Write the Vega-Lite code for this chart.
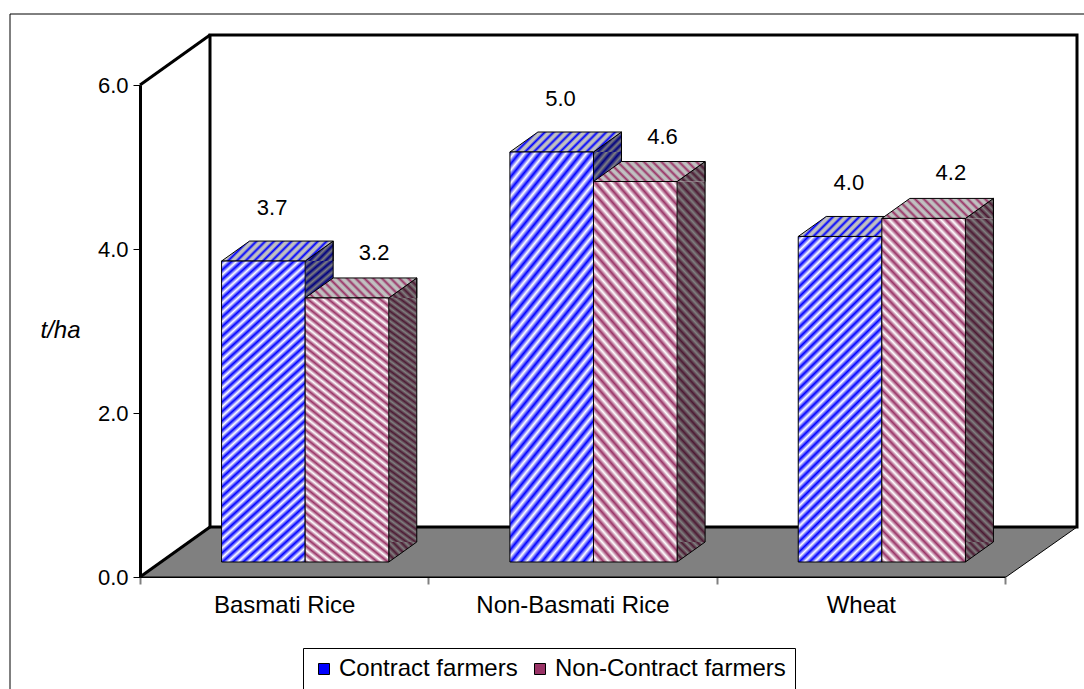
{
  "$schema": "https://vega.github.io/schema/vega-lite/v6.json",
  "width": 865,
  "height": 492,
  "autosize": "none",
  "padding": {"left": 140, "top": 85, "right": 79, "bottom": 112},
  "background": "#ffffff",
  "config": {"font": "Liberation Sans", "view": {"stroke": null}},
  "data": {
    "values": [
      {"crop": "Basmati Rice", "group": "Contract farmers", "value": 3.67},
      {"crop": "Basmati Rice", "group": "Non-Contract farmers", "value": 3.22},
      {"crop": "Non-Basmati Rice", "group": "Contract farmers", "value": 5.0},
      {"crop": "Non-Basmati Rice", "group": "Non-Contract farmers", "value": 4.64},
      {"crop": "Wheat", "group": "Contract farmers", "value": 3.97},
      {"crop": "Wheat", "group": "Non-Contract farmers", "value": 4.19}
    ]
  },
  "encoding": {
    "x": {
      "field": "crop",
      "type": "nominal",
      "sort": null,
      "scale": {"paddingInner": 0, "paddingOuter": 0},
      "axis": {
        "title": null,
        "labelAngle": 0,
        "labelFontSize": 24,
        "labelColor": "#000000",
        "labelPadding": 9,
        "labelLimit": 400,
        "tickBand": "extent",
        "tickSize": 7,
        "tickColor": "#808080",
        "tickWidth": 2,
        "domainColor": "#000000",
        "domainWidth": 1,
        "grid": false,
        "zindex": 1
      }
    },
    "y": {
      "field": "value",
      "type": "quantitative",
      "scale": {"domain": [0, 6], "nice": false},
      "axis": {
        "title": "t/ha",
        "titleAngle": 0,
        "titleFontStyle": "italic",
        "titleFontWeight": "normal",
        "titleFontSize": 24,
        "titleColor": "#000000",
        "titleX": -80,
        "titleY": 245,
        "titleAlign": "center",
        "titleBaseline": "middle",
        "values": [0, 2, 4, 6],
        "format": ".1f",
        "labelFontSize": 22,
        "labelColor": "#000000",
        "labelPadding": 5,
        "tickSize": 7,
        "tickColor": "#000000",
        "domainColor": "#000000",
        "domainWidth": 3,
        "grid": false,
        "zindex": 1
      }
    }
  },
  "layer": [
    {
      "transform": [{"filter": "datum.crop === 'Basmati Rice' && datum.group === 'Contract farmers'"}],
      "mark": {"type": "rect", "fill": "transparent", "stroke": "#000000", "strokeWidth": 1, "xOffset": -130, "x2Offset": 100, "yOffset": -71, "y2Offset": 150},
      "encoding": {"x": {"value": 0}, "x2": {"value": "width"}, "y": {"value": 0}, "y2": {"value": "height"}}
    },
    {
      "transform": [{"filter": "datum.crop === 'Basmati Rice' && datum.group === 'Contract farmers'"}],
      "mark": {"type": "point", "shape": "M0,0L70,-50L937,-50L866,0Z", "size": 4, "filled": true, "opacity": 1, "fill": "#808080", "stroke": "#000000", "strokeWidth": 1},
      "encoding": {"x": {"value": 0}, "y": {"datum": 0, "type": "quantitative"}}
    },
    {
      "transform": [{"filter": "datum.crop === 'Basmati Rice' && datum.group === 'Contract farmers'"}],
      "mark": {"type": "rect", "fill": "#ffffff", "stroke": "#000000", "strokeWidth": 3, "xOffset": 70, "x2Offset": 72, "yOffset": -50, "y2Offset": -50},
      "encoding": {"x": {"value": 0}, "x2": {"value": "width"}, "y": {"datum": 6, "type": "quantitative"}, "y2": {"datum": 0}}
    },
    {
      "transform": [{"filter": "datum.crop === 'Basmati Rice' && datum.group === 'Contract farmers'"}],
      "mark": {"type": "rule", "color": "#000000", "strokeWidth": 3, "x2Offset": 70, "y2Offset": -50},
      "encoding": {"x": {"value": 0}, "x2": {"value": 0}, "y": {"datum": 6, "type": "quantitative"}, "y2": {"datum": 6}}
    },
    {
      "transform": [{"filter": "datum.crop === 'Basmati Rice' && datum.group === 'Contract farmers'"}],
      "mark": {"type": "rule", "color": "#000000", "strokeWidth": 3, "x2Offset": 70, "y2Offset": -50},
      "encoding": {"x": {"value": 0}, "x2": {"value": 0}, "y": {"datum": 0, "type": "quantitative"}, "y2": {"datum": 0}}
    },
    {
      "transform": [{"filter": "datum.group === 'Contract farmers'"}],
      "mark": {"type": "bar", "width": 28, "xOffset": 35, "yOffset": -15, "y2Offset": -35, "strokeWidth": 0,
        "fill": {"gradient": "linear", "x1": 0, "y1": 0, "x2": 0.0915, "y2": 1.077, "stops": [{"offset":0,"color":"#000080"},{"offset":0.0125,"color":"#808080"},{"offset":0.025,"color":"#000080"},{"offset":0.0375,"color":"#808080"},{"offset":0.05,"color":"#000080"},{"offset":0.0625,"color":"#808080"},{"offset":0.075,"color":"#000080"},{"offset":0.0875,"color":"#808080"},{"offset":0.1,"color":"#000080"},{"offset":0.1125,"color":"#808080"},{"offset":0.125,"color":"#000080"},{"offset":0.1375,"color":"#808080"},{"offset":0.15,"color":"#000080"},{"offset":0.1625,"color":"#808080"},{"offset":0.175,"color":"#000080"},{"offset":0.1875,"color":"#808080"},{"offset":0.2,"color":"#000080"},{"offset":0.2125,"color":"#808080"},{"offset":0.225,"color":"#000080"},{"offset":0.2375,"color":"#808080"},{"offset":0.25,"color":"#000080"},{"offset":0.2625,"color":"#808080"},{"offset":0.275,"color":"#000080"},{"offset":0.2875,"color":"#808080"},{"offset":0.3,"color":"#000080"},{"offset":0.3125,"color":"#808080"},{"offset":0.325,"color":"#000080"},{"offset":0.3375,"color":"#808080"},{"offset":0.35,"color":"#000080"},{"offset":0.3625,"color":"#808080"},{"offset":0.375,"color":"#000080"},{"offset":0.3875,"color":"#808080"},{"offset":0.4,"color":"#000080"},{"offset":0.4125,"color":"#808080"},{"offset":0.425,"color":"#000080"},{"offset":0.4375,"color":"#808080"},{"offset":0.45,"color":"#000080"},{"offset":0.4625,"color":"#808080"},{"offset":0.475,"color":"#000080"},{"offset":0.4875,"color":"#808080"},{"offset":0.5,"color":"#000080"},{"offset":0.5125,"color":"#808080"},{"offset":0.525,"color":"#000080"},{"offset":0.5375,"color":"#808080"},{"offset":0.55,"color":"#000080"},{"offset":0.5625,"color":"#808080"},{"offset":0.575,"color":"#000080"},{"offset":0.5875,"color":"#808080"},{"offset":0.6,"color":"#000080"},{"offset":0.6125,"color":"#808080"},{"offset":0.625,"color":"#000080"},{"offset":0.6375,"color":"#808080"},{"offset":0.65,"color":"#000080"},{"offset":0.6625,"color":"#808080"},{"offset":0.675,"color":"#000080"},{"offset":0.6875,"color":"#808080"},{"offset":0.7,"color":"#000080"},{"offset":0.7125,"color":"#808080"},{"offset":0.725,"color":"#000080"},{"offset":0.7375,"color":"#808080"},{"offset":0.75,"color":"#000080"},{"offset":0.7625,"color":"#808080"},{"offset":0.775,"color":"#000080"},{"offset":0.7875,"color":"#808080"},{"offset":0.8,"color":"#000080"},{"offset":0.8125,"color":"#808080"},{"offset":0.825,"color":"#000080"},{"offset":0.8375,"color":"#808080"},{"offset":0.85,"color":"#000080"},{"offset":0.8625,"color":"#808080"},{"offset":0.875,"color":"#000080"},{"offset":0.8875,"color":"#808080"},{"offset":0.9,"color":"#000080"},{"offset":0.9125,"color":"#808080"},{"offset":0.925,"color":"#000080"},{"offset":0.9375,"color":"#808080"},{"offset":0.95,"color":"#000080"},{"offset":0.9625,"color":"#808080"},{"offset":0.975,"color":"#000080"},{"offset":0.9875,"color":"#808080"},{"offset":1,"color":"#000080"}]}},
      "encoding": {"y2": {"datum": 0}}
    },
    {
      "transform": [{"filter": "datum.group === 'Non-Contract farmers'"}],
      "mark": {"type": "bar", "width": 28, "xOffset": 118.6, "yOffset": -15, "y2Offset": -35, "strokeWidth": 0,
        "fill": {"gradient": "linear", "x1": 0, "y1": 1, "x2": 0.0915, "y2": -0.077, "stops": [{"offset":0,"color":"#4c1a33"},{"offset":0.0125,"color":"#808080"},{"offset":0.025,"color":"#4c1a33"},{"offset":0.0375,"color":"#808080"},{"offset":0.05,"color":"#4c1a33"},{"offset":0.0625,"color":"#808080"},{"offset":0.075,"color":"#4c1a33"},{"offset":0.0875,"color":"#808080"},{"offset":0.1,"color":"#4c1a33"},{"offset":0.1125,"color":"#808080"},{"offset":0.125,"color":"#4c1a33"},{"offset":0.1375,"color":"#808080"},{"offset":0.15,"color":"#4c1a33"},{"offset":0.1625,"color":"#808080"},{"offset":0.175,"color":"#4c1a33"},{"offset":0.1875,"color":"#808080"},{"offset":0.2,"color":"#4c1a33"},{"offset":0.2125,"color":"#808080"},{"offset":0.225,"color":"#4c1a33"},{"offset":0.2375,"color":"#808080"},{"offset":0.25,"color":"#4c1a33"},{"offset":0.2625,"color":"#808080"},{"offset":0.275,"color":"#4c1a33"},{"offset":0.2875,"color":"#808080"},{"offset":0.3,"color":"#4c1a33"},{"offset":0.3125,"color":"#808080"},{"offset":0.325,"color":"#4c1a33"},{"offset":0.3375,"color":"#808080"},{"offset":0.35,"color":"#4c1a33"},{"offset":0.3625,"color":"#808080"},{"offset":0.375,"color":"#4c1a33"},{"offset":0.3875,"color":"#808080"},{"offset":0.4,"color":"#4c1a33"},{"offset":0.4125,"color":"#808080"},{"offset":0.425,"color":"#4c1a33"},{"offset":0.4375,"color":"#808080"},{"offset":0.45,"color":"#4c1a33"},{"offset":0.4625,"color":"#808080"},{"offset":0.475,"color":"#4c1a33"},{"offset":0.4875,"color":"#808080"},{"offset":0.5,"color":"#4c1a33"},{"offset":0.5125,"color":"#808080"},{"offset":0.525,"color":"#4c1a33"},{"offset":0.5375,"color":"#808080"},{"offset":0.55,"color":"#4c1a33"},{"offset":0.5625,"color":"#808080"},{"offset":0.575,"color":"#4c1a33"},{"offset":0.5875,"color":"#808080"},{"offset":0.6,"color":"#4c1a33"},{"offset":0.6125,"color":"#808080"},{"offset":0.625,"color":"#4c1a33"},{"offset":0.6375,"color":"#808080"},{"offset":0.65,"color":"#4c1a33"},{"offset":0.6625,"color":"#808080"},{"offset":0.675,"color":"#4c1a33"},{"offset":0.6875,"color":"#808080"},{"offset":0.7,"color":"#4c1a33"},{"offset":0.7125,"color":"#808080"},{"offset":0.725,"color":"#4c1a33"},{"offset":0.7375,"color":"#808080"},{"offset":0.75,"color":"#4c1a33"},{"offset":0.7625,"color":"#808080"},{"offset":0.775,"color":"#4c1a33"},{"offset":0.7875,"color":"#808080"},{"offset":0.8,"color":"#4c1a33"},{"offset":0.8125,"color":"#808080"},{"offset":0.825,"color":"#4c1a33"},{"offset":0.8375,"color":"#808080"},{"offset":0.85,"color":"#4c1a33"},{"offset":0.8625,"color":"#808080"},{"offset":0.875,"color":"#4c1a33"},{"offset":0.8875,"color":"#808080"},{"offset":0.9,"color":"#4c1a33"},{"offset":0.9125,"color":"#808080"},{"offset":0.925,"color":"#4c1a33"},{"offset":0.9375,"color":"#808080"},{"offset":0.95,"color":"#4c1a33"},{"offset":0.9625,"color":"#808080"},{"offset":0.975,"color":"#4c1a33"},{"offset":0.9875,"color":"#808080"},{"offset":1,"color":"#4c1a33"}]}},
      "encoding": {"y2": {"datum": 0}}
    },
    {
      "transform": [{"filter": "datum.group === 'Contract farmers'"}],
      "mark": {"type": "point", "shape": "M0,0L28,-20L28,0", "size": 4, "filled": true, "opacity": 1, "xOffset": 21, "yOffset": -15, "stroke": "#000000", "strokeWidth": 1,
        "fill": {"gradient": "linear", "x1": 0, "y1": 0, "x2": 1.135, "y2": 0.81, "stops": [{"offset":0,"color":"#000080"},{"offset":0.0833,"color":"#808080"},{"offset":0.1667,"color":"#000080"},{"offset":0.25,"color":"#808080"},{"offset":0.3333,"color":"#000080"},{"offset":0.4167,"color":"#808080"},{"offset":0.5,"color":"#000080"},{"offset":0.5833,"color":"#808080"},{"offset":0.6667,"color":"#000080"},{"offset":0.75,"color":"#808080"},{"offset":0.8333,"color":"#000080"},{"offset":0.9167,"color":"#808080"},{"offset":1,"color":"#000080"}]}}
    },
    {
      "transform": [{"filter": "datum.group === 'Non-Contract farmers'"}],
      "mark": {"type": "point", "shape": "M0,0L28,-20L28,0", "size": 4, "filled": true, "opacity": 1, "xOffset": 104.6, "yOffset": -15, "stroke": "#000000", "strokeWidth": 1,
        "fill": {"gradient": "linear", "x1": 0, "y1": 1, "x2": 1.135, "y2": 0.19, "stops": [{"offset":0,"color":"#4c1a33"},{"offset":0.0833,"color":"#808080"},{"offset":0.1667,"color":"#4c1a33"},{"offset":0.25,"color":"#808080"},{"offset":0.3333,"color":"#4c1a33"},{"offset":0.4167,"color":"#808080"},{"offset":0.5,"color":"#4c1a33"},{"offset":0.5833,"color":"#808080"},{"offset":0.6667,"color":"#4c1a33"},{"offset":0.75,"color":"#808080"},{"offset":0.8333,"color":"#4c1a33"},{"offset":0.9167,"color":"#808080"},{"offset":1,"color":"#4c1a33"}]}}
    },
    {
      "transform": [{"filter": "datum.group === 'Contract farmers'"}],
      "mark": {"type": "point", "shape": "M0,-20L0,0L28,-20", "size": 4, "filled": true, "opacity": 1, "xOffset": 21, "yOffset": -15, "stroke": "#000000", "strokeWidth": 1,
        "fill": {"gradient": "linear", "x1": 0, "y1": 0, "x2": 1.135, "y2": 0.81, "stops": [{"offset":0,"color":"#000080"},{"offset":0.0833,"color":"#808080"},{"offset":0.1667,"color":"#000080"},{"offset":0.25,"color":"#808080"},{"offset":0.3333,"color":"#000080"},{"offset":0.4167,"color":"#808080"},{"offset":0.5,"color":"#000080"},{"offset":0.5833,"color":"#808080"},{"offset":0.6667,"color":"#000080"},{"offset":0.75,"color":"#808080"},{"offset":0.8333,"color":"#000080"},{"offset":0.9167,"color":"#808080"},{"offset":1,"color":"#000080"}]}},
      "encoding": {"y": {"datum": 0, "type": "quantitative"}}
    },
    {
      "transform": [{"filter": "datum.group === 'Non-Contract farmers'"}],
      "mark": {"type": "point", "shape": "M0,-20L0,0L28,-20", "size": 4, "filled": true, "opacity": 1, "xOffset": 104.6, "yOffset": -15, "stroke": "#000000", "strokeWidth": 1,
        "fill": {"gradient": "linear", "x1": 0, "y1": 1, "x2": 1.135, "y2": 0.19, "stops": [{"offset":0,"color":"#4c1a33"},{"offset":0.0833,"color":"#808080"},{"offset":0.1667,"color":"#4c1a33"},{"offset":0.25,"color":"#808080"},{"offset":0.3333,"color":"#4c1a33"},{"offset":0.4167,"color":"#808080"},{"offset":0.5,"color":"#4c1a33"},{"offset":0.5833,"color":"#808080"},{"offset":0.6667,"color":"#4c1a33"},{"offset":0.75,"color":"#808080"},{"offset":0.8333,"color":"#4c1a33"},{"offset":0.9167,"color":"#808080"},{"offset":1,"color":"#4c1a33"}]}},
      "encoding": {"y": {"datum": 0, "type": "quantitative"}}
    },
    {
      "transform": [{"filter": "datum.group === 'Contract farmers'"}],
      "mark": {"type": "rule", "color": "#000000", "strokeWidth": 1, "xOffset": 49, "yOffset": -35, "y2Offset": -35},
      "encoding": {"y2": {"datum": 0}}
    },
    {
      "transform": [{"filter": "datum.group === 'Non-Contract farmers'"}],
      "mark": {"type": "rule", "color": "#000000", "strokeWidth": 1, "xOffset": 132.6, "yOffset": -35, "y2Offset": -35},
      "encoding": {"y2": {"datum": 0}}
    },
    {
      "transform": [{"filter": "datum.group === 'Contract farmers'"}],
      "mark": {"type": "point", "shape": "M-41.8,0L-13.8,-20L69.8,-20L41.8,0Z", "size": 4, "filled": true, "opacity": 1, "xOffset": -20.8, "yOffset": -15, "stroke": "#000000", "strokeWidth": 1,
        "fill": {"gradient": "linear", "x1": 0, "y1": 0, "x2": 1.142, "y2": 0.205, "stops": [{"offset":0,"color":"#0000ff"},{"offset":0.0222,"color":"#c0c0c0"},{"offset":0.0444,"color":"#c0c0c0"},{"offset":0.0667,"color":"#0000ff"},{"offset":0.0889,"color":"#c0c0c0"},{"offset":0.1111,"color":"#c0c0c0"},{"offset":0.1333,"color":"#0000ff"},{"offset":0.1556,"color":"#c0c0c0"},{"offset":0.1778,"color":"#c0c0c0"},{"offset":0.2,"color":"#0000ff"},{"offset":0.2222,"color":"#c0c0c0"},{"offset":0.2444,"color":"#c0c0c0"},{"offset":0.2667,"color":"#0000ff"},{"offset":0.2889,"color":"#c0c0c0"},{"offset":0.3111,"color":"#c0c0c0"},{"offset":0.3333,"color":"#0000ff"},{"offset":0.3556,"color":"#c0c0c0"},{"offset":0.3778,"color":"#c0c0c0"},{"offset":0.4,"color":"#0000ff"},{"offset":0.4222,"color":"#c0c0c0"},{"offset":0.4444,"color":"#c0c0c0"},{"offset":0.4667,"color":"#0000ff"},{"offset":0.4889,"color":"#c0c0c0"},{"offset":0.5111,"color":"#c0c0c0"},{"offset":0.5333,"color":"#0000ff"},{"offset":0.5556,"color":"#c0c0c0"},{"offset":0.5778,"color":"#c0c0c0"},{"offset":0.6,"color":"#0000ff"},{"offset":0.6222,"color":"#c0c0c0"},{"offset":0.6444,"color":"#c0c0c0"},{"offset":0.6667,"color":"#0000ff"},{"offset":0.6889,"color":"#c0c0c0"},{"offset":0.7111,"color":"#c0c0c0"},{"offset":0.7333,"color":"#0000ff"},{"offset":0.7556,"color":"#c0c0c0"},{"offset":0.7778,"color":"#c0c0c0"},{"offset":0.8,"color":"#0000ff"},{"offset":0.8222,"color":"#c0c0c0"},{"offset":0.8444,"color":"#c0c0c0"},{"offset":0.8667,"color":"#0000ff"},{"offset":0.8889,"color":"#c0c0c0"},{"offset":0.9111,"color":"#c0c0c0"},{"offset":0.9333,"color":"#0000ff"},{"offset":0.9556,"color":"#c0c0c0"},{"offset":0.9778,"color":"#c0c0c0"},{"offset":1,"color":"#0000ff"}]}}
    },
    {
      "transform": [{"filter": "datum.group === 'Non-Contract farmers'"}],
      "mark": {"type": "point", "shape": "M-41.8,0L-13.8,-20L69.8,-20L41.8,0Z", "size": 4, "filled": true, "opacity": 1, "xOffset": 62.8, "yOffset": -15, "stroke": "#000000", "strokeWidth": 1,
        "fill": {"gradient": "linear", "x1": 0, "y1": 1, "x2": 1.142, "y2": 0.795, "stops": [{"offset":0,"color":"#993366"},{"offset":0.0222,"color":"#c0c0c0"},{"offset":0.0444,"color":"#c0c0c0"},{"offset":0.0667,"color":"#993366"},{"offset":0.0889,"color":"#c0c0c0"},{"offset":0.1111,"color":"#c0c0c0"},{"offset":0.1333,"color":"#993366"},{"offset":0.1556,"color":"#c0c0c0"},{"offset":0.1778,"color":"#c0c0c0"},{"offset":0.2,"color":"#993366"},{"offset":0.2222,"color":"#c0c0c0"},{"offset":0.2444,"color":"#c0c0c0"},{"offset":0.2667,"color":"#993366"},{"offset":0.2889,"color":"#c0c0c0"},{"offset":0.3111,"color":"#c0c0c0"},{"offset":0.3333,"color":"#993366"},{"offset":0.3556,"color":"#c0c0c0"},{"offset":0.3778,"color":"#c0c0c0"},{"offset":0.4,"color":"#993366"},{"offset":0.4222,"color":"#c0c0c0"},{"offset":0.4444,"color":"#c0c0c0"},{"offset":0.4667,"color":"#993366"},{"offset":0.4889,"color":"#c0c0c0"},{"offset":0.5111,"color":"#c0c0c0"},{"offset":0.5333,"color":"#993366"},{"offset":0.5556,"color":"#c0c0c0"},{"offset":0.5778,"color":"#c0c0c0"},{"offset":0.6,"color":"#993366"},{"offset":0.6222,"color":"#c0c0c0"},{"offset":0.6444,"color":"#c0c0c0"},{"offset":0.6667,"color":"#993366"},{"offset":0.6889,"color":"#c0c0c0"},{"offset":0.7111,"color":"#c0c0c0"},{"offset":0.7333,"color":"#993366"},{"offset":0.7556,"color":"#c0c0c0"},{"offset":0.7778,"color":"#c0c0c0"},{"offset":0.8,"color":"#993366"},{"offset":0.8222,"color":"#c0c0c0"},{"offset":0.8444,"color":"#c0c0c0"},{"offset":0.8667,"color":"#993366"},{"offset":0.8889,"color":"#c0c0c0"},{"offset":0.9111,"color":"#c0c0c0"},{"offset":0.9333,"color":"#993366"},{"offset":0.9556,"color":"#c0c0c0"},{"offset":0.9778,"color":"#c0c0c0"},{"offset":1,"color":"#993366"}]}}
    },
    {
      "transform": [{"filter": "datum.group === 'Contract farmers'"}],
      "mark": {"type": "bar", "width": 83.6, "xOffset": -20.8, "yOffset": -15, "y2Offset": -15, "stroke": "#000000", "strokeWidth": 1,
        "fill": {"gradient": "linear", "x1": 0, "y1": 0, "x2": 0.298, "y2": 1.178, "stops": [{"offset":0,"color":"#00f"},{"offset":0.0125,"color":"#fff"},{"offset":0.025,"color":"#00f"},{"offset":0.0375,"color":"#fff"},{"offset":0.05,"color":"#00f"},{"offset":0.0625,"color":"#fff"},{"offset":0.075,"color":"#00f"},{"offset":0.0875,"color":"#fff"},{"offset":0.1,"color":"#00f"},{"offset":0.1125,"color":"#fff"},{"offset":0.125,"color":"#00f"},{"offset":0.1375,"color":"#fff"},{"offset":0.15,"color":"#00f"},{"offset":0.1625,"color":"#fff"},{"offset":0.175,"color":"#00f"},{"offset":0.1875,"color":"#fff"},{"offset":0.2,"color":"#00f"},{"offset":0.2125,"color":"#fff"},{"offset":0.225,"color":"#00f"},{"offset":0.2375,"color":"#fff"},{"offset":0.25,"color":"#00f"},{"offset":0.2625,"color":"#fff"},{"offset":0.275,"color":"#00f"},{"offset":0.2875,"color":"#fff"},{"offset":0.3,"color":"#00f"},{"offset":0.3125,"color":"#fff"},{"offset":0.325,"color":"#00f"},{"offset":0.3375,"color":"#fff"},{"offset":0.35,"color":"#00f"},{"offset":0.3625,"color":"#fff"},{"offset":0.375,"color":"#00f"},{"offset":0.3875,"color":"#fff"},{"offset":0.4,"color":"#00f"},{"offset":0.4125,"color":"#fff"},{"offset":0.425,"color":"#00f"},{"offset":0.4375,"color":"#fff"},{"offset":0.45,"color":"#00f"},{"offset":0.4625,"color":"#fff"},{"offset":0.475,"color":"#00f"},{"offset":0.4875,"color":"#fff"},{"offset":0.5,"color":"#00f"},{"offset":0.5125,"color":"#fff"},{"offset":0.525,"color":"#00f"},{"offset":0.5375,"color":"#fff"},{"offset":0.55,"color":"#00f"},{"offset":0.5625,"color":"#fff"},{"offset":0.575,"color":"#00f"},{"offset":0.5875,"color":"#fff"},{"offset":0.6,"color":"#00f"},{"offset":0.6125,"color":"#fff"},{"offset":0.625,"color":"#00f"},{"offset":0.6375,"color":"#fff"},{"offset":0.65,"color":"#00f"},{"offset":0.6625,"color":"#fff"},{"offset":0.675,"color":"#00f"},{"offset":0.6875,"color":"#fff"},{"offset":0.7,"color":"#00f"},{"offset":0.7125,"color":"#fff"},{"offset":0.725,"color":"#00f"},{"offset":0.7375,"color":"#fff"},{"offset":0.75,"color":"#00f"},{"offset":0.7625,"color":"#fff"},{"offset":0.775,"color":"#00f"},{"offset":0.7875,"color":"#fff"},{"offset":0.8,"color":"#00f"},{"offset":0.8125,"color":"#fff"},{"offset":0.825,"color":"#00f"},{"offset":0.8375,"color":"#fff"},{"offset":0.85,"color":"#00f"},{"offset":0.8625,"color":"#fff"},{"offset":0.875,"color":"#00f"},{"offset":0.8875,"color":"#fff"},{"offset":0.9,"color":"#00f"},{"offset":0.9125,"color":"#fff"},{"offset":0.925,"color":"#00f"},{"offset":0.9375,"color":"#fff"},{"offset":0.95,"color":"#00f"},{"offset":0.9625,"color":"#fff"},{"offset":0.975,"color":"#00f"},{"offset":0.9875,"color":"#fff"},{"offset":1,"color":"#00f"}]}},
      "encoding": {"y2": {"datum": 0}}
    },
    {
      "transform": [{"filter": "datum.group === 'Non-Contract farmers'"}],
      "mark": {"type": "bar", "width": 83.6, "xOffset": 62.8, "yOffset": -15, "y2Offset": -15, "stroke": "#000000", "strokeWidth": 1,
        "fill": {"gradient": "linear", "x1": 0, "y1": 1, "x2": 0.298, "y2": -0.178, "stops": [{"offset":0,"color":"#936"},{"offset":0.0125,"color":"#fff"},{"offset":0.025,"color":"#936"},{"offset":0.0375,"color":"#fff"},{"offset":0.05,"color":"#936"},{"offset":0.0625,"color":"#fff"},{"offset":0.075,"color":"#936"},{"offset":0.0875,"color":"#fff"},{"offset":0.1,"color":"#936"},{"offset":0.1125,"color":"#fff"},{"offset":0.125,"color":"#936"},{"offset":0.1375,"color":"#fff"},{"offset":0.15,"color":"#936"},{"offset":0.1625,"color":"#fff"},{"offset":0.175,"color":"#936"},{"offset":0.1875,"color":"#fff"},{"offset":0.2,"color":"#936"},{"offset":0.2125,"color":"#fff"},{"offset":0.225,"color":"#936"},{"offset":0.2375,"color":"#fff"},{"offset":0.25,"color":"#936"},{"offset":0.2625,"color":"#fff"},{"offset":0.275,"color":"#936"},{"offset":0.2875,"color":"#fff"},{"offset":0.3,"color":"#936"},{"offset":0.3125,"color":"#fff"},{"offset":0.325,"color":"#936"},{"offset":0.3375,"color":"#fff"},{"offset":0.35,"color":"#936"},{"offset":0.3625,"color":"#fff"},{"offset":0.375,"color":"#936"},{"offset":0.3875,"color":"#fff"},{"offset":0.4,"color":"#936"},{"offset":0.4125,"color":"#fff"},{"offset":0.425,"color":"#936"},{"offset":0.4375,"color":"#fff"},{"offset":0.45,"color":"#936"},{"offset":0.4625,"color":"#fff"},{"offset":0.475,"color":"#936"},{"offset":0.4875,"color":"#fff"},{"offset":0.5,"color":"#936"},{"offset":0.5125,"color":"#fff"},{"offset":0.525,"color":"#936"},{"offset":0.5375,"color":"#fff"},{"offset":0.55,"color":"#936"},{"offset":0.5625,"color":"#fff"},{"offset":0.575,"color":"#936"},{"offset":0.5875,"color":"#fff"},{"offset":0.6,"color":"#936"},{"offset":0.6125,"color":"#fff"},{"offset":0.625,"color":"#936"},{"offset":0.6375,"color":"#fff"},{"offset":0.65,"color":"#936"},{"offset":0.6625,"color":"#fff"},{"offset":0.675,"color":"#936"},{"offset":0.6875,"color":"#fff"},{"offset":0.7,"color":"#936"},{"offset":0.7125,"color":"#fff"},{"offset":0.725,"color":"#936"},{"offset":0.7375,"color":"#fff"},{"offset":0.75,"color":"#936"},{"offset":0.7625,"color":"#fff"},{"offset":0.775,"color":"#936"},{"offset":0.7875,"color":"#fff"},{"offset":0.8,"color":"#936"},{"offset":0.8125,"color":"#fff"},{"offset":0.825,"color":"#936"},{"offset":0.8375,"color":"#fff"},{"offset":0.85,"color":"#936"},{"offset":0.8625,"color":"#fff"},{"offset":0.875,"color":"#936"},{"offset":0.8875,"color":"#fff"},{"offset":0.9,"color":"#936"},{"offset":0.9125,"color":"#fff"},{"offset":0.925,"color":"#936"},{"offset":0.9375,"color":"#fff"},{"offset":0.95,"color":"#936"},{"offset":0.9625,"color":"#fff"},{"offset":0.975,"color":"#936"},{"offset":0.9875,"color":"#fff"},{"offset":1,"color":"#936"}]}},
      "encoding": {"y2": {"datum": 0}}
    },
    {
      "transform": [{"filter": "datum.group === 'Contract farmers'"}],
      "mark": {"type": "text", "fontSize": 22, "color": "#000000", "align": "center", "baseline": "middle", "xOffset": -12, "yOffset": -68},
      "encoding": {"text": {"field": "value", "type": "quantitative", "format": ".1f"}}
    },
    {
      "transform": [{"filter": "datum.group === 'Non-Contract farmers'"}],
      "mark": {"type": "text", "fontSize": 22, "color": "#000000", "align": "center", "baseline": "middle", "xOffset": 90, "yOffset": -60},
      "encoding": {"text": {"field": "value", "type": "quantitative", "format": ".1f"}}
    },
    {
      "mark": {"type": "point", "shape": "square", "filled": true, "opacity": 0},
      "encoding": {
        "color": {
          "field": "group",
          "type": "nominal",
          "scale": {"domain": ["Contract farmers", "Non-Contract farmers"], "range": ["#0000ff", "#993366"]},
          "legend": {
            "title": null,
            "orient": "none",
            "legendX": 163,
            "legendY": 563,
            "direction": "horizontal",
            "padding": 9,
            "strokeColor": "#000000",
            "fillColor": "#ffffff",
            "labelFontSize": 24,
            "labelColor": "#000000",
            "labelLimit": 400,
            "labelOffset": 3,
            "columnPadding": 10,
            "symbolType": "square",
            "symbolSize": 121,
            "symbolStrokeColor": "#000000",
            "symbolStrokeWidth": 1,
            "symbolOpacity": 1,
            "encode": {
              "symbols": {
                "update": {
                  "opacity": {"value": 1},
                  "stroke": {"value": "#000000"},
                  "strokeWidth": {"value": 1}
                }
              }
            }
          }
        }
      }
    }
  ]
}
